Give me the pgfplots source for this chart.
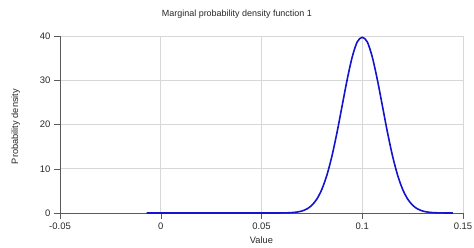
\documentclass[border=0pt]{standalone}
\usepackage{fontspec}
\setmainfont{Liberation Sans}
\usepackage{pgfplots}
\pgfplotsset{compat=1.18}
\definecolor{curve}{RGB}{20,20,205}
\definecolor{gridc}{RGB}{215,215,215}
\definecolor{axc}{RGB}{90,90,90}
\definecolor{txt}{RGB}{40,40,40}
\begin{document}
\begin{tikzpicture}
\begin{axis}[
  scale only axis,
  width=403bp, height=177bp,
  xmin=-0.05, xmax=0.15, ymin=0, ymax=40,
  xtick={-0.05,0,0.05,0.1,0.15},
  xticklabels={-0.05,0,0.05,0.1,0.15},
  ytick={0,10,20,30,40},
  yticklabels={0,10,20,30,40},
  scaled ticks=false,
  axis lines*=left,
  axis line style={axc,-},
  tick style={axc},
  tick align=outside,
  major tick length=6bp,
  grid=major,
  major grid style={gridc, line width=0.6bp},
  font=\fontsize{9.5}{11}\selectfont,
  tick label style={txt, font=\fontsize{9.5}{11}\selectfont},
  /pgf/number format/assume math mode=true,
  xlabel={Value},
  ylabel={Probability density},
  label style={txt, font=\fontsize{9.3}{10}\selectfont},
  xlabel style={yshift=-1bp},
  ylabel style={yshift=13bp, xshift=-2bp},
  clip=false,
]
\addplot[curve, line width=1.6bp, smooth] coordinates {
(-0.007,0) (0.02,0) (0.05,0) (0.055,0.0005) (0.06,0.0134) (0.0625,0.0353) (0.065,0.0873) (0.0675,0.203)
(0.07,0.443) (0.0725,0.909) (0.075,1.753) (0.0775,3.174) (0.08,5.399)
(0.0825,8.627) (0.085,12.951) (0.0875,18.264) (0.09,24.197) (0.0925,30.113)
(0.095,35.207) (0.0975,38.667) (0.1,39.70) (0.1025,38.667) (0.105,35.207)
(0.1075,30.113) (0.11,24.197) (0.1125,18.264) (0.115,12.951) (0.1175,8.627)
(0.12,5.399) (0.1225,3.174) (0.125,1.753) (0.1275,0.909) (0.13,0.443)
(0.1325,0.203) (0.135,0.0873) (0.1375,0.0353) (0.14,0.0134) (0.145,0.0016)
};
\node[txt, font=\fontsize{9}{10}\selectfont] at (rel axis cs:0.439,1) [yshift=22bp] {Marginal probability density function 1};
\end{axis}
\pgfresetboundingbox
\path[use as bounding box] (current axis.south west) ++(-60bp,-35bp) rectangle ++(474bp,248bp);
\end{tikzpicture}
\end{document}
